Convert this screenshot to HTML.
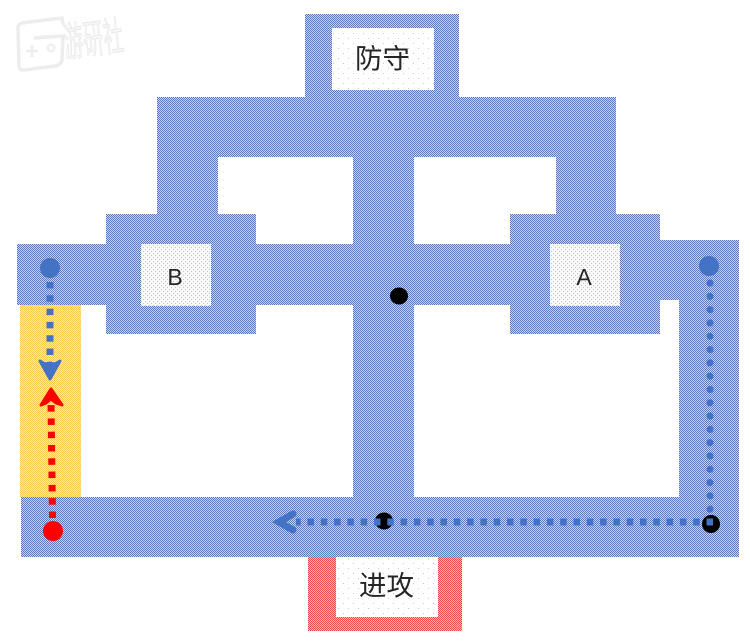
<!DOCTYPE html>
<html>
<head>
<meta charset="utf-8">
<style>
html,body{margin:0;padding:0;background:#fff;}
svg{display:block;}
text{font-family:"Liberation Sans","Noto Sans CJK SC",sans-serif;fill:#262626;text-anchor:middle;}
</style>
</head>
<body>
<svg width="750" height="641" viewBox="0 0 750 641" xmlns="http://www.w3.org/2000/svg">
<defs>
<pattern id="blue" width="2" height="2" patternUnits="userSpaceOnUse">
<rect width="2" height="2" fill="#c8d3e6"/>
<rect width="1" height="1" fill="#5c7abb"/>
<rect x="1" y="1" width="1" height="1" fill="#5c7abb"/>
</pattern>
<pattern id="yellow" width="2" height="2" patternUnits="userSpaceOnUse">
<rect width="2" height="2" fill="#ffeab0"/>
<rect width="1" height="1" fill="#f8c850"/>
<rect x="1" y="1" width="1" height="1" fill="#f8c850"/>
</pattern>
<pattern id="red" width="2" height="2" patternUnits="userSpaceOnUse">
<rect width="2" height="2" fill="#ffb4b4"/>
<rect width="1" height="1" fill="#ee4c4c"/>
<rect x="1" y="1" width="1" height="1" fill="#ee4c4c"/>
</pattern>
<pattern id="dots" width="10" height="10" patternUnits="userSpaceOnUse">
<rect width="10" height="10" fill="#ffffff"/>
<rect x="3" y="3" width="1" height="1" fill="#c8c8c8"/>
<rect x="8" y="8" width="1" height="1" fill="#c8c8c8"/>
</pattern>
<pattern id="dotsB" width="4" height="4" patternUnits="userSpaceOnUse">
<rect width="4" height="4" fill="#f8f8f8"/>
<rect x="1" y="1" width="1" height="1" fill="#c4c4c4"/>
<rect x="3" y="3" width="1" height="1" fill="#c4c4c4"/>
</pattern>
</defs>

<!-- watermark -->
<g fill="none" stroke="#ededed" stroke-width="3.5" stroke-linejoin="round">
<path d="M63 24 L62 18 L22 23 Q18 24 18 28 L19 66 Q19 70 24 70 L55 66 Q61 65 62 60 L63 36 L34 38"/>
<path d="M26 51h12M32 45v12" stroke-width="2.5"/>
<circle cx="51" cy="48" r="3.5" stroke-width="2"/>
</g>
<g transform="translate(95,53) rotate(-7) scale(1,2)">
<text x="0" y="0" font-size="20" style="fill:#f7f7f7;stroke:#e8e8e8;stroke-width:.5">游研社</text>
</g>

<!-- yellow -->
<rect x="20" y="305" width="61" height="192" fill="url(#yellow)"/>
<!-- red -->
<rect x="308" y="557" width="154" height="74" fill="url(#red)"/>

<!-- blue structure -->
<g fill="url(#blue)">
<rect x="305" y="14" width="154" height="83"/>
<rect x="157" y="97" width="459" height="60"/>
<rect x="157" y="157" width="61" height="57"/>
<rect x="556" y="157" width="60" height="57"/>
<rect x="353" y="157" width="61" height="340"/>
<rect x="106" y="214" width="150" height="120"/>
<rect x="510" y="214" width="150" height="120"/>
<rect x="17" y="244" width="643" height="61"/>
<rect x="660" y="240" width="79" height="60"/>
<rect x="679" y="300" width="60" height="257"/>
<rect x="21" y="497" width="658" height="60"/>
</g>

<!-- white labels -->
<rect x="332" y="28" width="102" height="62" fill="url(#dots)"/>
<rect x="336" y="557" width="102" height="60" fill="url(#dots)"/>
<rect x="141" y="244" width="70" height="62" fill="url(#dotsB)"/>
<rect x="550" y="244" width="70" height="62" fill="url(#dotsB)"/>

<text x="382.5" y="68" font-size="27.5">防守</text>
<text x="386.5" y="595" font-size="27.5">进攻</text>
<text x="175" y="285" font-size="23">B</text>
<text x="584" y="285" font-size="23">A</text>

<!-- black nodes -->
<ellipse cx="399" cy="296" rx="9" ry="8.5" fill="#000"/>
<ellipse cx="384" cy="521" rx="9" ry="8.5" fill="#000"/>
<ellipse cx="711" cy="524" rx="9" ry="9" fill="#000"/>

<!-- blue dotted paths -->
<g fill="#4472c4">
<circle cx="50" cy="268" r="10"/>
<circle cx="709" cy="266" r="10"/>
</g>
<path d="M50 282V358" stroke="#4472c4" stroke-width="7" stroke-dasharray="6.5 6.8" fill="none"/>
<path d="M40 361 L50 379 L60 361 L55 364 L50 363 L45 364Z" fill="#4472c4" stroke="#4472c4" stroke-width="3" stroke-linejoin="round"/>
<path d="M710 283V510" stroke="#4472c4" stroke-width="7" stroke-dasharray="0.1 13.2" stroke-linecap="round" fill="none"/>
<path d="M713 522H296" stroke="#4472c4" stroke-width="7" stroke-dasharray="6.5 6.8" fill="none"/>
<path d="M293 514 L279 522 L293 530" fill="none" stroke="#4472c4" stroke-width="7" stroke-linecap="round" stroke-linejoin="miter"/>

<!-- red dotted path -->
<circle cx="53" cy="531" r="10" fill="#f00"/>
<path d="M52.5 518L51 402" stroke="#f00" stroke-width="7" stroke-dasharray="6.5 6.8" fill="none"/>
<path d="M51 389 L62 405 L56 403 L51 399 L46 403 L41 405Z" fill="#f00" stroke="#f00" stroke-width="3" stroke-linejoin="round"/>
</svg>
</body>
</html>
